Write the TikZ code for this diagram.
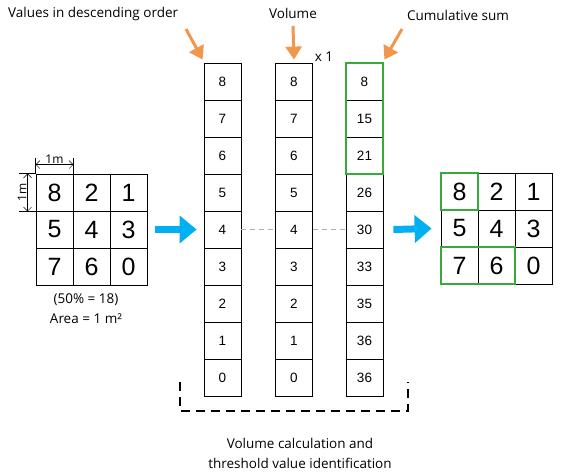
\documentclass[tikz,border=0pt]{standalone}
\usepackage{fontspec}
\setmainfont{Open Sans}
\newfontfamily\numfont{Liberation Sans}
\usetikzlibrary{arrows.meta}
\definecolor{orangearr}{RGB}{241,150,75}
\definecolor{bluearr}{RGB}{0,176,240}
\definecolor{greenbox}{RGB}{55,170,60}
\tikzset{
  bigcell/.style={draw, thick, minimum size=37pt, inner sep=0pt, font=\numfont\fontsize{25}{25}\selectfont},
  colcell/.style={draw, thick, minimum width=37pt, minimum height=37pt, inner sep=0pt, font=\numfont\fontsize{13.5}{13.5}\selectfont},
  label/.style={font=\fontsize{13.5}{16}\selectfont, inner sep=0pt},
  orangearrow/.style={orangearr, line width=3pt, -{Triangle[length=13pt,width=16pt]}},
  bluearrow/.style={bluearr, line width=7pt, -{Triangle[length=17pt,width=27pt]}},
  dimline/.style={thin, {Straight Barb[length=4pt,width=8pt]}-{Straight Barb[length=4pt,width=8pt]}},
  greenline/.style={greenbox, line width=2pt}
}
\begin{document}
\begin{tikzpicture}[x=1pt, y=-1pt]
    \useasboundingbox (0,0) rectangle (582,476);

    % --- input grid ---
    \foreach \v [count=\i from 0] in {8,2,1,5,4,3,7,6,0} {
        \pgfmathtruncatemacro\c{mod(\i,3)}
        \pgfmathtruncatemacro\r{div(\i,3)}
        \node[bigcell] (g\i) at (54.5+37*\c, 192.5+37*\r) {\v};
    }
    \draw[thin] (g0.north west) -- ++(0,-16);
    \draw[thin] (g0.north east) -- ++(0,-16);
    \draw[dimline] ([yshift=9pt]g0.north west) -- node[label, above=1pt, font=\fontsize{12}{12}\selectfont] {1m} ([yshift=9pt]g0.north east);
    \draw[thin] (g0.north west) -- ++(-17,0);
    \draw[thin] (g0.south west) -- ++(-17,0);
    \draw[dimline] ([xshift=-8pt]g0.north west) -- node[label, rotate=90, above=1pt, font=\fontsize{12}{12}\selectfont] {1m} ([xshift=-8pt]g0.south west);
    \node[label] (pct) at (86,300) {(50\% = 18)};
    \node[label] (area) at (86,319) {Area = 1 m²};

    % --- columns ---
    \foreach \v [count=\i from 0] in {8,7,6,5,4,3,2,1,0} {
        \node[colcell] (a\i) at (222.5, 81.5+37*\i) {\v};
        \node[colcell] (b\i) at (294, 81.5+37*\i) {\v};
    }
    \foreach \v [count=\i from 0] in {8,15,21,26,30,33,35,36,36} {
        \node[colcell] (s\i) at (364.5, 81.5+37*\i) {\v};
    }
    \draw[greenline] (s0.north west) rectangle (s2.south east);

    \draw[gray!60, thick, dash pattern=on 5pt off 4pt] (a4.east) -- (b4.west);
    \draw[gray!60, thick, dash pattern=on 5pt off 4pt] (b4.east) -- (s4.west);

    % --- labels and orange arrows ---
    \node[label, anchor=west] (lbdesc) at (8,14) {Values in descending order};
    \node[label] (lbvol) at (293,13) {Volume};
    \node[label] (lbcum) at (458,15) {Cumulative sum};
    \node[label] (times) at (324,57) {x 1};
    \coordinate (o1) at (186,29);
    \coordinate (o2) at (293,26);
    \coordinate (o3) at (402,29);
    \draw[orangearrow] (o1) -- ([shift={(-1pt,3pt)}]a0.north west);
    \draw[orangearrow] (o2) -- ([yshift=3pt]b0.north);
    \draw[orangearrow] (o3) -- ([shift={(1pt,3pt)}]s0.north east);

    % --- output grid ---
    \foreach \v [count=\i from 0] in {8,2,1,5,4,3,7,6,0} {
        \pgfmathtruncatemacro\c{mod(\i,3)}
        \pgfmathtruncatemacro\r{div(\i,3)}
        \node[bigcell] (h\i) at (459.5+37*\c, 191.5+37*\r) {\v};
    }
    \draw[greenline] (h0.north west) rectangle (h0.south east);
    \draw[greenline] (h6.north west) rectangle (h7.south east);

    % --- blue arrows ---
    \draw[bluearrow] ([xshift=8pt]g5.east) -- ([xshift=-7pt]a4.west);
    \draw[bluearrow] ([xshift=10pt]s4.east) -- ([xshift=-9pt]h3.west);

    % --- bracket ---
    \coordinate (br1) at (180,382);
    \coordinate (br2) at (408,382);
    \draw[line width=2.4pt, dash pattern=on 9pt off 6pt] (br1) -- (180,411) -- (408,411) -- (br2);
    \node[label, align=center, font=\fontsize{13.5}{20}\selectfont] (caption) at (300,453) {Volume calculation and\\threshold value identification};
\end{tikzpicture}
\end{document}
